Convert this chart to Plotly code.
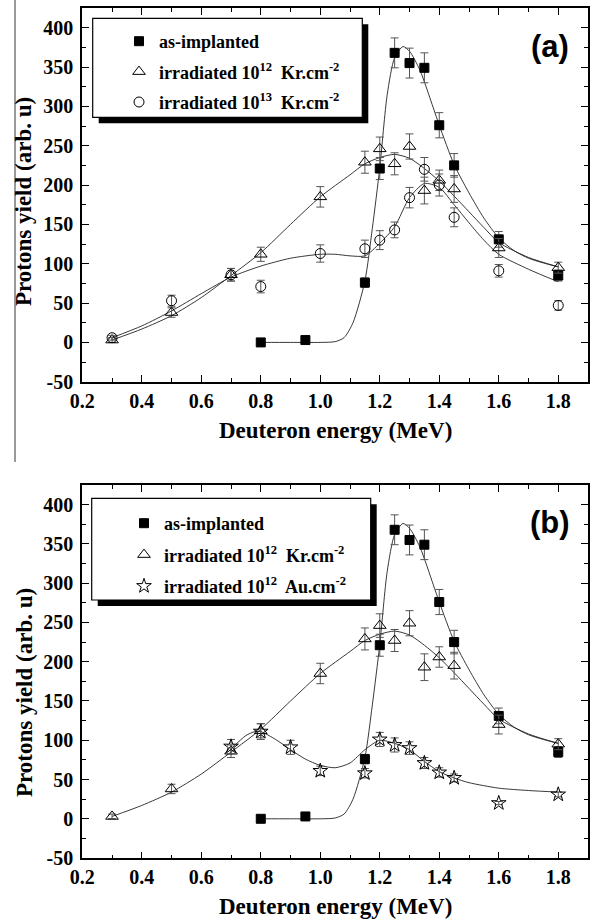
import plotly.graph_objects as go

# ---------------- data ----------------
# as-implanted (filled squares) - same in both panels
x_impl = [0.8, 0.95, 1.15, 1.2, 1.25, 1.3, 1.35, 1.4, 1.45, 1.6, 1.8]
y_impl = [0, 3, 76, 221, 368, 355, 349, 276, 225, 131, 85]
e_impl = [0, 0, 6, 14, 19, 19, 19, 16, 15, 10, 7]

# irradiated 1e12 Kr (open triangles) - same in both panels
x_kr12 = [0.3, 0.5, 0.7, 0.8, 1.0, 1.15, 1.2, 1.25, 1.3, 1.35, 1.4, 1.45, 1.6, 1.8]
y_kr12 = [3, 38, 86, 112, 185, 229, 246, 227, 249, 193, 206, 195, 120, 95]
e_kr12 = [3, 6, 8, 9, 13, 14, 15, 14, 16, 17, 13, 17, 12, 7]

# irradiated 1e13 Kr (open circles) - panel (a)
x_kr13 = [0.3, 0.5, 0.7, 0.8, 1.0, 1.15, 1.2, 1.25, 1.3, 1.35, 1.4, 1.45, 1.6, 1.8]
y_kr13 = [6, 53, 86, 71, 113, 119, 130, 143, 184, 220, 200, 159, 91, 47]
e_kr13 = [3, 7, 8, 8, 11, 11, 12, 10, 13, 15, 14, 12, 8, 6]

# irradiated 1e12 Au (open stars) - panel (b)
x_au12 = [0.7, 0.8, 0.9, 1.0, 1.15, 1.2, 1.25, 1.3, 1.35, 1.4, 1.45, 1.6, 1.8]
y_au12 = [92, 111, 91, 61, 58, 101, 94, 90, 71, 59, 52, 20, 31]
e_au12 = [9, 10, 9, 6, 6, 9, 9, 8, 7, 6, 5, 2, 3]

# fitted curves
fit_impl_x = [0.8, 0.9, 1.0, 1.05, 1.08, 1.11, 1.15, 1.175, 1.2, 1.225, 1.25, 1.278,
              1.3, 1.335, 1.38, 1.4, 1.45, 1.5, 1.55, 1.6, 1.65, 1.7, 1.75, 1.8]
fit_impl_y = [0, 0, 0, 1, 6, 25, 78, 145, 222, 315, 362, 376,
              370, 346, 298, 276, 226, 190, 158, 133, 117, 107, 101, 96]

fit_kr12_x = [0.3, 0.4, 0.5, 0.6, 0.7, 0.8, 0.9, 1.0, 1.1, 1.15, 1.2, 1.25, 1.3,
              1.35, 1.4, 1.45, 1.5, 1.55, 1.6, 1.7, 1.8]
fit_kr12_y = [3, 17, 34, 57, 85, 114, 150, 185, 213, 227, 235, 239, 234,
              221, 205, 186, 166, 146, 127, 108, 96]

fit_kr13_x = [0.3, 0.4, 0.5, 0.6, 0.7, 0.8, 0.9, 1.0, 1.05, 1.1, 1.15, 1.2, 1.25,
              1.3, 1.35, 1.4, 1.45, 1.5, 1.55, 1.6, 1.7, 1.8]
fit_kr13_y = [6, 21, 40, 62, 83, 97, 107, 112, 112, 110, 110, 126, 147,
              184, 202, 197, 175, 152, 130, 112, 93, 77]

fit_au12_x = [0.7, 0.75, 0.78, 0.8, 0.85, 0.9, 0.95, 1.0, 1.05, 1.1, 1.15, 1.2,
              1.25, 1.3, 1.35, 1.4, 1.45, 1.5, 1.6, 1.7, 1.8]
fit_au12_y = [89, 106, 111, 111, 101, 88, 76, 68, 65, 71, 88, 100,
              96, 88, 73, 60, 52, 46, 39, 36, 34]

x_ticks = [0.2, 0.4, 0.6, 0.8, 1.0, 1.2, 1.4, 1.6, 1.8]
x_ticktext = ["0.2", "0.4", "0.6", "0.8", "1.0", "1.2", "1.4", "1.6", "1.8"]
y_ticks = [-50, 0, 50, 100, 150, 200, 250, 300, 350, 400]
y_ticktext = ["-50", "0", "50", "100", "150", "200", "250", "300", "350", "400"]

lab_impl = "as-implanted"
lab_kr12 = "irradiated 10<sup>12</sup>  Kr.cm<sup>-2</sup>"
lab_kr13 = "irradiated 10<sup>13</sup>  Kr.cm<sup>-2</sup>"
lab_au12 = "irradiated 10<sup>12</sup>  Au.cm<sup>-2</sup>"
x_title = "Deuteron energy (MeV)"
y_title = "Protons yield (arb. u)"

# ---------------- figure ----------------
W, H = 594, 920
SERIF = "'Liberation Serif', 'Times New Roman', Times, serif"
SANS = "'Liberation Sans', Arial, Helvetica, sans-serif"
fig = go.Figure()


def px_x(p):
    return p / W


def px_y(p):
    return 1 - p / H


def fit(xs, ys, xa, ya):
    fig.add_trace(go.Scatter(x=xs, y=ys, mode="lines", xaxis=xa, yaxis=ya,
                             line=dict(color="#222", width=0.9, shape="spline", smoothing=0.7),
                             showlegend=False, hoverinfo="skip"))


def pts(xs, ys, es, name, symbol, size, fill, xa, ya, legend, group):
    fig.add_trace(go.Scatter(
        x=xs, y=ys, mode="markers", name=name, xaxis=xa, yaxis=ya,
        legend=legend, legendgroup=group,
        error_y=dict(type="data", array=es, visible=True, color="#555", thickness=1, width=4),
        marker=dict(symbol=symbol, size=size, color=fill,
                    line=dict(color="black", width=1))))


# panel (a)
fit(fit_impl_x, fit_impl_y, "x", "y")
fit(fit_kr12_x, fit_kr12_y, "x", "y")
fit(fit_kr13_x, fit_kr13_y, "x", "y")
pts(x_impl, y_impl, e_impl, lab_impl, "square", 9, "black", "x", "y", "legend", "a1")
pts(x_kr12, y_kr12, e_kr12, lab_kr12, "triangle-up-open", 11, "black", "x", "y", "legend", "a2")
pts(x_kr13, y_kr13, e_kr13, lab_kr13, "circle-open", 10, "black", "x", "y", "legend", "a3")

# panel (b)
fit(fit_impl_x, fit_impl_y, "x2", "y2")
fit(fit_kr12_x, fit_kr12_y, "x2", "y2")
fit(fit_au12_x, fit_au12_y, "x2", "y2")
pts(x_impl, y_impl, e_impl, lab_impl, "square", 9, "black", "x2", "y2", "legend2", "b1")
pts(x_kr12, y_kr12, e_kr12, lab_kr12, "triangle-up-open", 11, "black", "x2", "y2", "legend2", "b2")
pts(x_au12, y_au12, e_au12, lab_au12, "star-open", 11, "black", "x2", "y2", "legend2", "b3")

tickfont = dict(family=SERIF, size=20, color="black", weight="bold")
xcommon = dict(range=[0.199, 1.9], tickvals=x_ticks, ticktext=x_ticktext, ticks="inside",
               ticklen=7, tickwidth=1.2, tickcolor="black", showline=True, linecolor="black",
               linewidth=1.6, mirror="allticks", showgrid=False, zeroline=False,
               tickfont=tickfont, ticklabelstandoff=0, automargin=False,
               minor=dict(dtick=0.1, tick0=0.2, ticks="inside", ticklen=4, tickcolor="black",
                          tickwidth=1.2, showgrid=False))
ycommon = dict(range=[-50.3, 425], tickvals=y_ticks, ticktext=y_ticktext, ticks="inside",
               ticklen=7, tickwidth=1.2, tickcolor="black", showline=True, linecolor="black",
               linewidth=1.6, mirror="allticks", showgrid=False, zeroline=False,
               tickfont=tickfont, ticklabelstandoff=3, automargin=False,
               minor=dict(dtick=25, tick0=0, ticks="inside", ticklen=4, tickcolor="black",
                          tickwidth=1.2, showgrid=False))

xd = [82 / W, 588 / W]
fig.update_layout(
    width=W, height=H, margin=dict(l=0, r=0, t=0, b=0),
    paper_bgcolor="white", plot_bgcolor="rgba(0,0,0,0)",
    font=dict(family=SERIF),
    xaxis=dict(domain=xd, anchor="y", **xcommon),
    yaxis=dict(domain=[px_y(382), px_y(8)], anchor="x", **ycommon),
    xaxis2=dict(domain=xd, anchor="y2", **xcommon),
    yaxis2=dict(domain=[px_y(858.3), px_y(485)], anchor="x2", **ycommon),
    legend=dict(x=px_x(119), y=px_y(23), xanchor="left", yanchor="top",
                bgcolor="rgba(0,0,0,0)", borderwidth=0, tracegroupgap=4,
                font=dict(family=SERIF, size=18, color="black", weight="bold")),
    legend2=dict(x=px_x(124), y=px_y(505), xanchor="left", yanchor="top",
                 bgcolor="rgba(0,0,0,0)", borderwidth=0, tracegroupgap=5,
                 font=dict(family=SERIF, size=18, color="black", weight="bold")),
    showlegend=True,
)

shapes = []
# legend boxes with shadows
for (l, t, r, b, off) in [(92.7, 18.3, 362.3, 117.3, 6), (91.7, 498.3, 370.7, 600, 6)]:
    shapes.append(dict(type="rect", xref="paper", yref="paper", layer="above",
                       x0=px_x(l + off), x1=px_x(r + off), y0=px_y(b + off), y1=px_y(t + off),
                       fillcolor="black", line=dict(width=0)))
    shapes.append(dict(type="rect", xref="paper", yref="paper", layer="above",
                       x0=px_x(l), x1=px_x(r), y0=px_y(b), y1=px_y(t),
                       fillcolor="white", line=dict(color="black", width=1.2)))
# scan edge line on the left
shapes.append(dict(type="line", xref="paper", yref="paper", x0=px_x(15), x1=px_x(15),
                   y0=px_y(462), y1=1, line=dict(color="#777", width=1.5)))
fig.update_layout(shapes=shapes)

titlefont = dict(family=SERIF, size=23, color="black", weight="bold")
labfont = dict(family=SANS, size=31, color="black", weight="bold")
ann = []
for yc in [430, 906]:
    ann.append(dict(text=x_title, xref="paper", yref="paper", x=px_x(335), y=px_y(yc),
                    xanchor="center", yanchor="middle", showarrow=False, font=titlefont))
for yc in [202, 693]:
    ann.append(dict(text=y_title, xref="paper", yref="paper", x=px_x(24), y=px_y(yc),
                    xanchor="center", yanchor="middle", showarrow=False, textangle=-90,
                    font=titlefont))
ann.append(dict(text="(a)", xref="paper", yref="paper", x=px_x(550), y=px_y(46),
                xanchor="center", yanchor="middle", showarrow=False, font=labfont))
ann.append(dict(text="(b)", xref="paper", yref="paper", x=px_x(550), y=px_y(522),
                xanchor="center", yanchor="middle", showarrow=False, font=labfont))
fig.update_layout(annotations=ann)

fig.write_html("out.html")
